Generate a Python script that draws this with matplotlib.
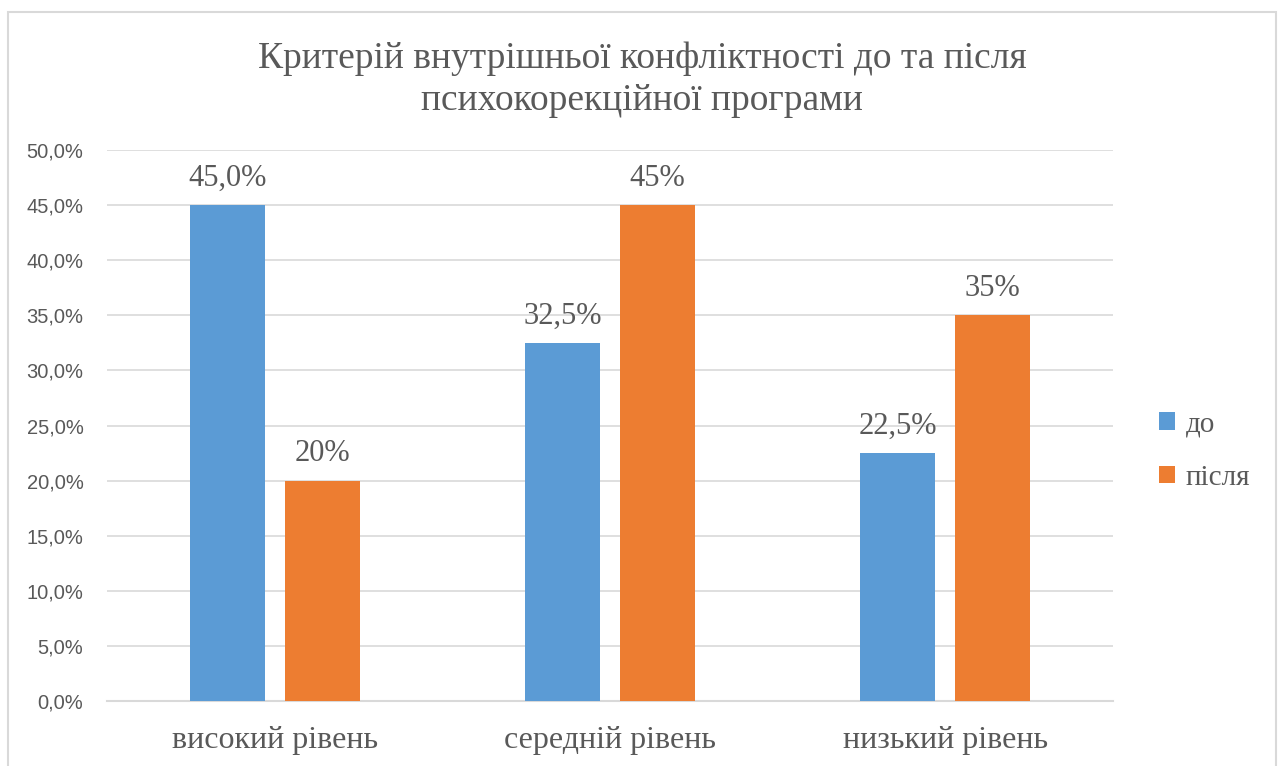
import matplotlib
matplotlib.use("Agg")
import matplotlib.pyplot as plt
from matplotlib.patches import Rectangle
import numpy as np

categories = ["високий рівень", "середній рівень", "низький рівень"]
series_names = ["до", "після"]
before = [45.0, 32.5, 22.5]
after = [20.0, 45.0, 35.0]
before_labels = ["45,0%", "32,5%", "22,5%"]
after_labels = ["20%", "45%", "35%"]
yticks = [0, 5, 10, 15, 20, 25, 30, 35, 40, 45, 50]
ytick_labels = ["0,0%", "5,0%", "10,0%", "15,0%", "20,0%", "25,0%", "30,0%",
                "35,0%", "40,0%", "45,0%", "50,0%"]
title = "Критерій внутрішньої конфліктності до та після\nпсихокорекційної програми"

BLUE = "#5B9BD5"
ORANGE = "#ED7D31"
TXT = "#595959"
GRID = "#D9D9D9"
SERIF = ["Liberation Serif", "DejaVu Serif"]

W, H = 1282, 766
fig = plt.figure(figsize=(W / 100, H / 100), dpi=100)
fig.patch.set_facecolor("white")

# chart border
fig.patches.append(Rectangle((8 / W, -0.05), (1276 - 8) / W, 1.05 - 12 / H,
                             transform=fig.transFigure, fill=False,
                             edgecolor=GRID, linewidth=1.5))

ax = fig.add_axes([107 / W, 1 - 701 / H, (1113 - 107) / W, (701 - 150) / H])
x = np.arange(len(categories))
bw = 0.224
off = 0.1417
b1 = ax.bar(x - off, before, bw, color=BLUE, label=series_names[0], zorder=3)
b2 = ax.bar(x + off, after, bw, color=ORANGE, label=series_names[1], zorder=3)

for rect, lab in zip(b1, before_labels):
    ax.text(rect.get_x() + rect.get_width() / 2, rect.get_height() + 1.1, lab,
            ha="center", va="bottom", fontsize=22, color=TXT, family=SERIF)
for rect, lab in zip(b2, after_labels):
    ax.text(rect.get_x() + rect.get_width() / 2, rect.get_height() + 1.1, lab,
            ha="center", va="bottom", fontsize=22, color=TXT, family=SERIF)

ax.set_xlim(-0.5, 2.5)
ax.set_ylim(0, 50)
ax.set_yticks(yticks)
ax.set_yticklabels(ytick_labels, fontsize=14.5, color=TXT,
                   family=["Liberation Sans", "DejaVu Sans"])
ax.set_xticks(x)
ax.set_xticklabels(categories, fontsize=23, color=TXT, family=SERIF)
ax.tick_params(axis="both", length=0)
ax.tick_params(axis="x", pad=18)
ax.tick_params(axis="y", pad=17)
ax.grid(axis="y", color=GRID, linewidth=1.2, zorder=0)
for s in ["top", "right", "left"]:
    ax.spines[s].set_visible(False)
ax.spines["bottom"].set_color(GRID)
ax.spines["bottom"].set_linewidth(1.5)

fig.text(642 / W, 1 - 80 / H, title, ha="center", va="center", fontsize=27,
         color=TXT, family=SERIF, linespacing=1.28)

leg = fig.legend(handles=[b1, b2], labels=series_names, loc="center left",
                 bbox_to_anchor=(1133 / W, 1 - 451 / H), frameon=False,
                 prop={"family": SERIF, "size": 21}, labelcolor=TXT,
                 handlelength=0.55, handleheight=0.55, handletextpad=0.35,
                 labelspacing=0.95)

fig.savefig("out.png", dpi=100, facecolor="white")
